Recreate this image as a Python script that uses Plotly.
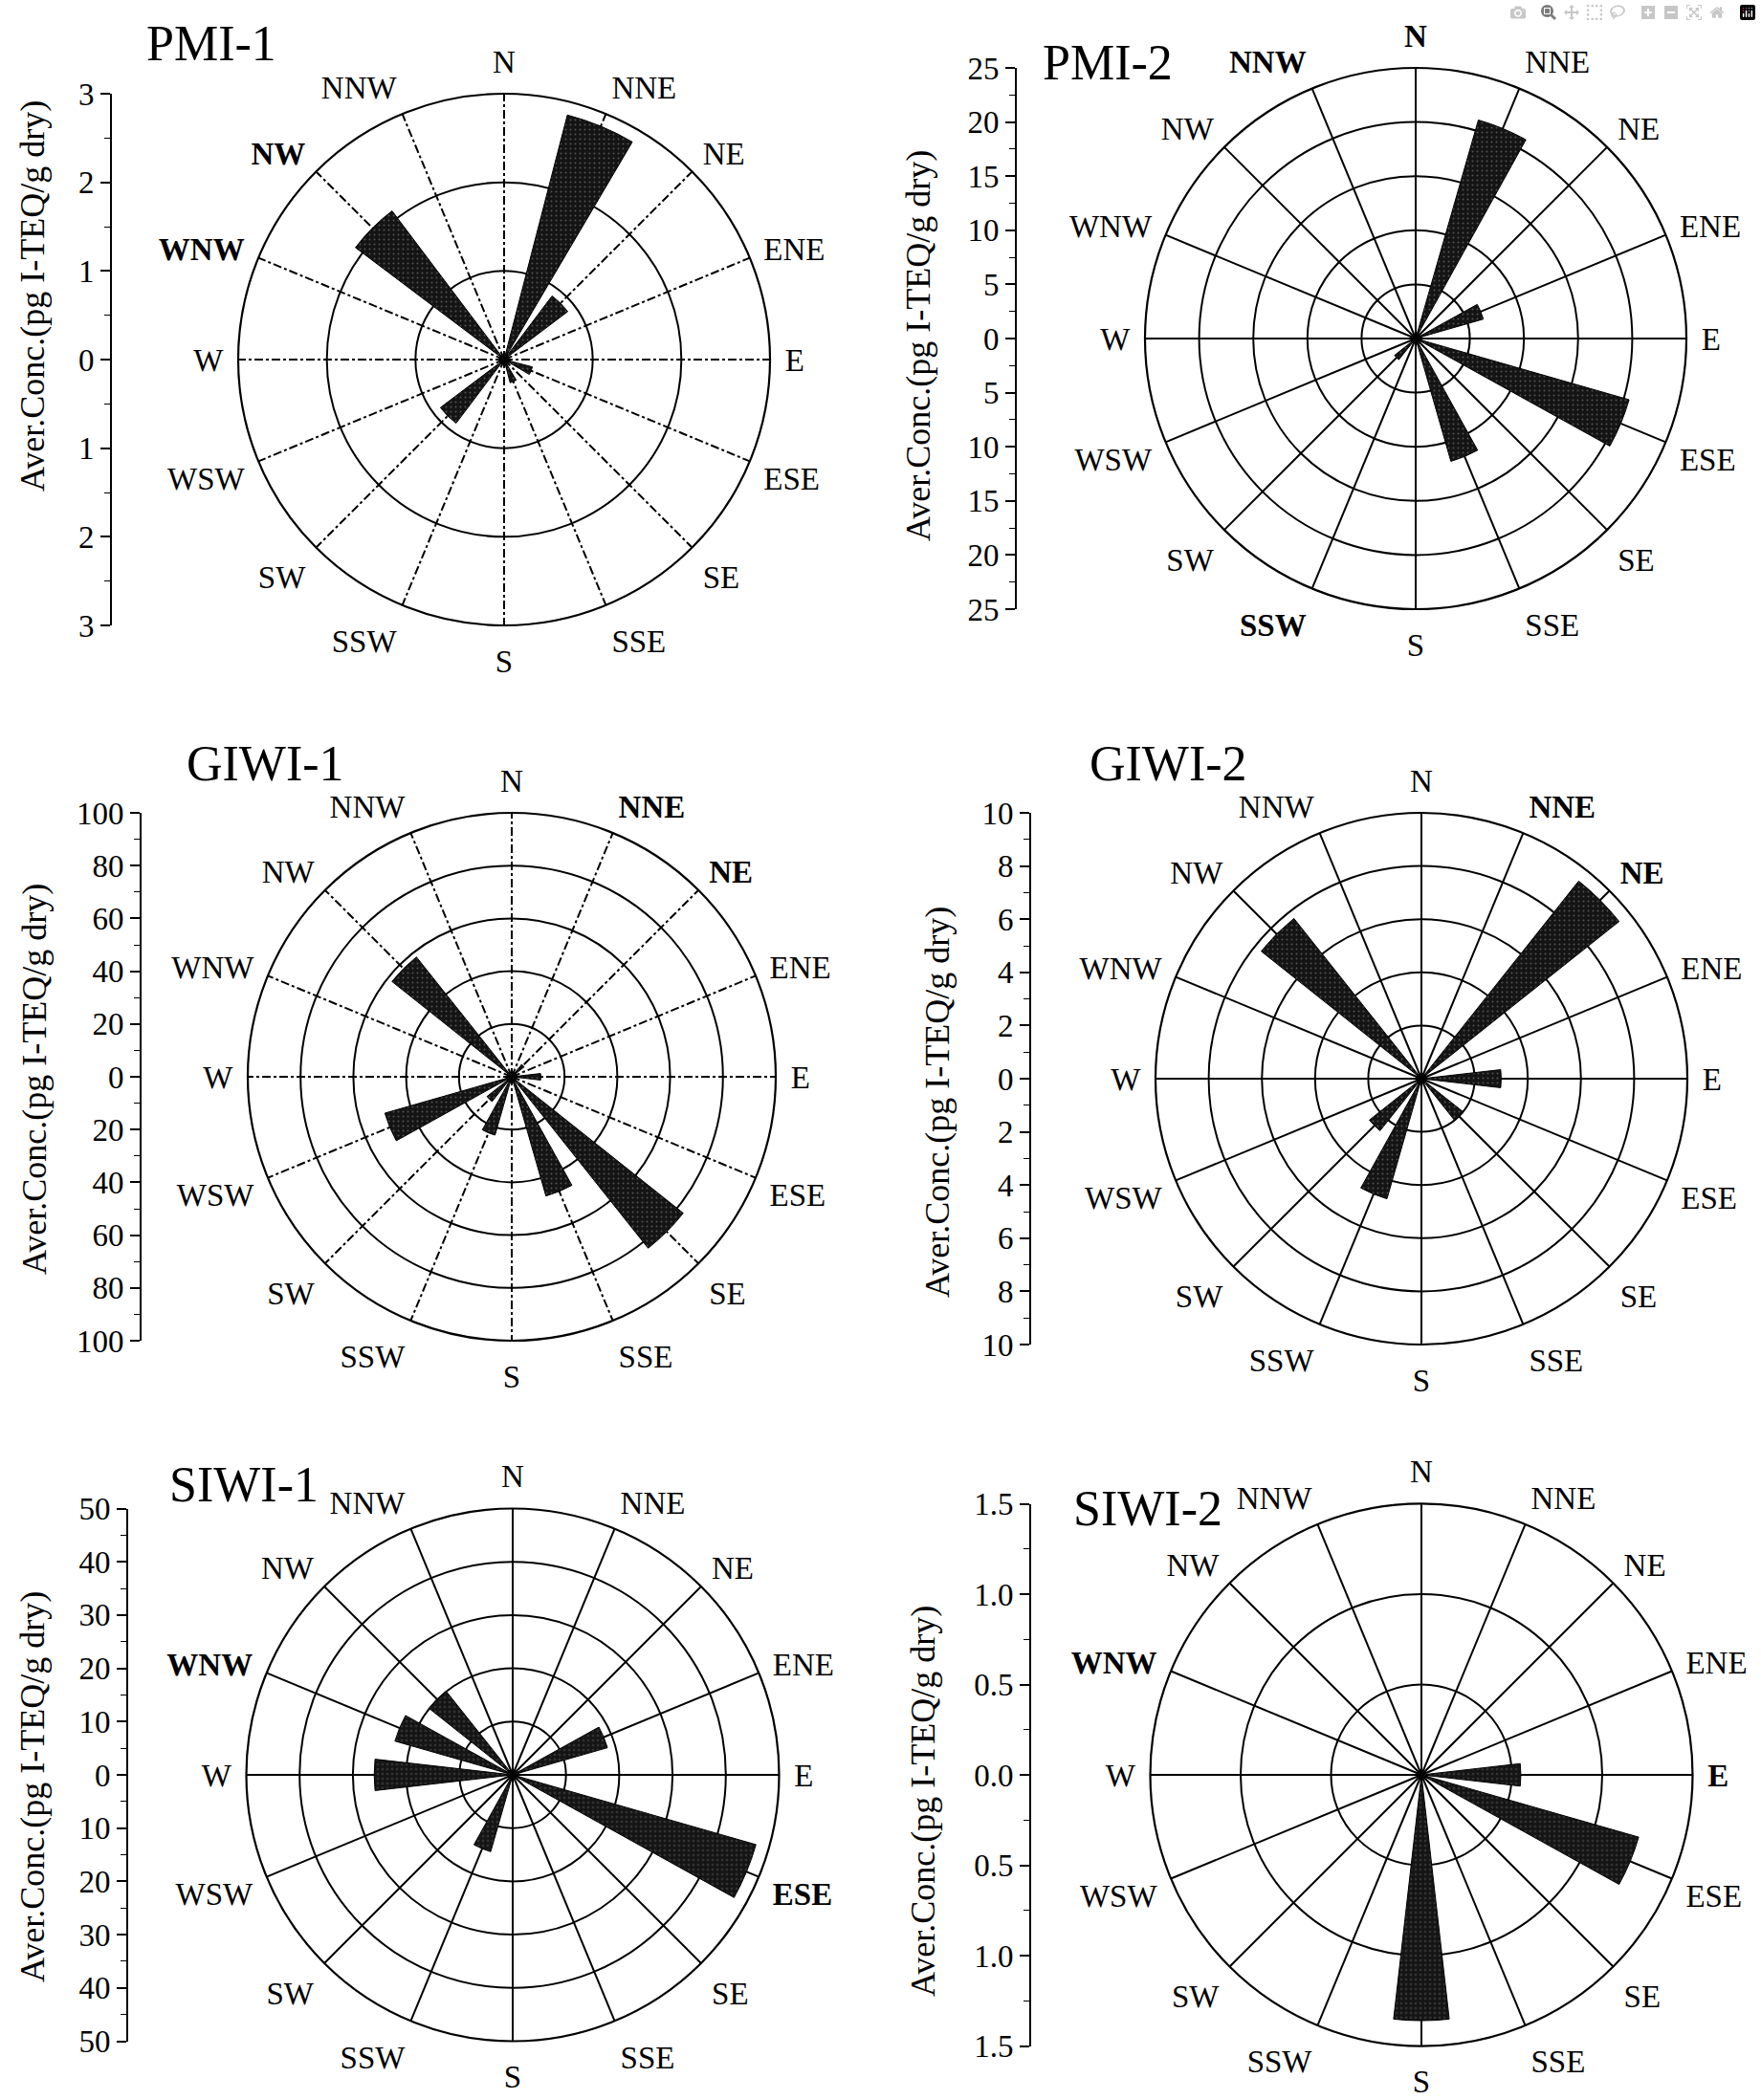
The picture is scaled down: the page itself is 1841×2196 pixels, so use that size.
import plotly.graph_objects as go

# ---------------- data ----------------
DIRECTIONS = ["N", "NNE", "NE", "ENE", "E", "ESE", "SE", "SSE",
              "S", "SSW", "SW", "WSW", "W", "WNW", "NW", "NNW"]

PANEL_NAMES = ["PMI-1", "PMI-2", "GIWI-1", "GIWI-2", "SIWI-1", "SIWI-2"]

PMI_1 = [0, 2.85, 0.9, 0, 0, 0.33, 0, 0.27, 0, 0, 0.9, 0, 0, 0, 2.1, 0]
PMI_2 = [0, 21.0, 0, 6.5, 0, 20.5, 0, 11.8, 0, 0, 2.5, 0, 0, 0, 0, 0]
GIWI_1 = [0, 0, 6, 0, 11, 0, 83, 47, 0, 23, 12, 50, 0, 0, 58, 0]
GIWI_2 = [0, 0, 9.5, 0, 3.0, 0, 2.0, 0, 0, 4.7, 2.5, 0, 0, 0, 7.7, 0]
SIWI_1 = [0, 0, 0, 18.5, 0, 47.5, 0, 0, 0, 15, 0, 0, 26, 23, 20, 0]
SIWI_2 = [0, 0, 0, 0, 0.55, 1.25, 0, 0, 1.36, 0, 0, 0, 0, 0, 0, 0]

AXIS_MAX = [3, 25, 100, 10, 50, 1.5]
TICK_STEP = [1, 5, 20, 2, 10, 0.5]
MINOR_STEP = [0.5, 2.5, 10, 1, 5, 0.25]
BOLD_DIRECTIONS = [["WNW", "NW"], ["N", "NNW", "SSW"], ["NNE", "NE"],
                   ["NNE", "NE"], ["WNW", "ESE"], ["WNW", "E"]]
Y_TITLE = "Aver.Conc.(pg I-TEQ/g dry)"

SERIES = [PMI_1, PMI_2, GIWI_1, GIWI_2, SIWI_1, SIWI_2]

# ---------------- layout / style ----------------
W, H = 1841, 2196
CENTERS = [(527, 376), (1480, 354), (535, 1126), (1486, 1128), (536, 1856), (1486, 1856)]
RADII = [278, 283, 276, 278, 278.5, 283.5]
AXIS_X = [117, 1063, 148, 1078, 134, 1078]
TITLE_POS = [(151, 46), (1088, 65), (193, 799), (1137, 798), (175, 1552), (1120, 1577)]
Y_TITLE_POS = [(34, 310), (960, 362), (36, 1129), (980, 1153), (34, 1869), (965, 1883)]
BAR_WIDTH = [16, 13, 13, 13, 13, 13]
DASHED_SPOKES = [True, False, True, False, False, False]
FONT = "Liberation Serif"

fig = go.Figure()
theta = [i * 360 / len(DIRECTIONS) for i in range(len(DIRECTIONS))]

layout_extra = {}
annotations = []
for k in range(6):
    idx = "" if k == 0 else str(k + 1)
    cx, cy = CENTERS[k]
    R = RADII[k]
    mx = AXIS_MAX[k]
    step = TICK_STEP[k]
    dom_x = [(cx - R) / W, (cx + R) / W]
    dom_y = [1 - (cy + R) / H, 1 - (cy - R) / H]

    r_vals = [v if v > 0 else None for v in SERIES[k]]
    fig.add_trace(go.Barpolar(
        r=r_vals, theta=theta, width=BAR_WIDTH[k],
        subplot="polar" + idx, showlegend=False,
        marker=dict(color="#141414", line=dict(color="black", width=1),
                    pattern=dict(shape=".", fgcolor="#8f8f8f", size=5,
                                 solidity=0.12, fillmode="overlay")),
    ))
    # empty trace so the value axis of this panel is drawn
    fig.add_trace(go.Scatter(x=[], y=[], xaxis="x" + idx, yaxis="y" + idx,
                             showlegend=False, hoverinfo="skip", mode="markers"))

    n_rings = int(round(mx / step))
    rings = [round(step * (i + 1), 6) for i in range(n_rings)]
    ticktext = [("<b>%s</b>" % d) if d in BOLD_DIRECTIONS[k] else d for d in DIRECTIONS]

    layout_extra["polar" + idx] = dict(
        domain=dict(x=dom_x, y=dom_y),
        bgcolor="white",
        radialaxis=dict(range=[0, mx], tickmode="array", tickvals=rings,
                        showticklabels=False, ticks="", showline=False,
                        gridcolor="black", gridwidth=1.9, layer="below traces"),
        angularaxis=dict(direction="clockwise", rotation=90, thetaunit="degrees",
                         tickmode="array", tickvals=theta, ticktext=ticktext,
                         showline=True, linecolor="black", linewidth=2.2,
                         gridcolor="black", gridwidth=1.5,
                         griddash="dashdot" if DASHED_SPOKES[k] else "solid",
                         ticks="outside", ticklen=8, tickcolor="rgba(0,0,0,0)",
                         tickfont=dict(family=FONT, size=33, color="black"),
                         layer="below traces"),
    )

    # left value axis
    decimals = 1 if step < 1 else 0
    yt = [round(-mx + step * i, 6) for i in range(2 * n_rings + 1)]
    ytext = [("%.*f" % (decimals, abs(v))) for v in yt]
    ax_x = AXIS_X[k]
    layout_extra["xaxis" + idx] = dict(domain=[ax_x / W, (ax_x + 1) / W], anchor="y" + idx,
                                       visible=False, range=[0, 1], automargin=False)
    layout_extra["yaxis" + idx] = dict(
        domain=dom_y, anchor="x" + idx, range=[-mx, mx], automargin=False,
        tickmode="array", tickvals=yt, ticktext=ytext,
        showline=True, linecolor="black", linewidth=1.6,
        ticks="outside", ticklen=10, tickwidth=1.6, tickcolor="black",
        minor=dict(tick0=0, dtick=MINOR_STEP[k], ticks="outside", ticklen=6,
                   tickwidth=1.3, tickcolor="black", showgrid=False),
        showgrid=False, zeroline=False,
        tickfont=dict(family=FONT, size=33, color="black"),
    )

    tx, ty = TITLE_POS[k]
    annotations.append(dict(text=PANEL_NAMES[k], x=tx / W, y=1 - ty / H, xref="paper", yref="paper",
                            xanchor="left", yanchor="middle", showarrow=False,
                            font=dict(family=FONT, size=52, color="black")))
    lx, ly = Y_TITLE_POS[k]
    annotations.append(dict(text=Y_TITLE, x=lx / W, y=1 - ly / H, xref="paper", yref="paper",
                            xanchor="center", yanchor="middle", textangle=-90, showarrow=False,
                            font=dict(family=FONT, size=36, color="black")))

fig.update_layout(
    width=W, height=H, margin=dict(l=0, r=0, t=0, b=0, autoexpand=False),
    paper_bgcolor="white", plot_bgcolor="white",
    annotations=annotations, showlegend=False,
    font=dict(family=FONT, color="black"),
    **layout_extra,
)

fig.write_html("out.html", post_script="document.body.style.margin='0';")
